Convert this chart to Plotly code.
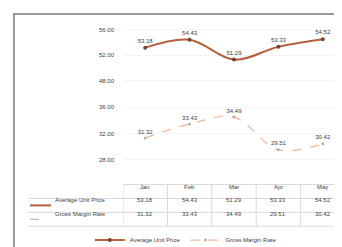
import plotly.graph_objects as go

categories = ["Jan", "Feb", "Mar", "Apr", "May"]
series1_name = "Average Unit Price"
series2_name = "Gross Margin Rate"
series1 = [53.18, 54.43, 51.29, 53.33, 54.52]
series2 = [31.32, 33.43, 34.49, 29.51, 30.42]
top_ticks = [56, 52, 48]
bottom_ticks = [36, 32, 28]

W, H = 342, 247
def py(p):
    return 1 - p / H

c1 = "#b8603e"
c2 = "#f2b58e"
txt = "#404040"
font = "Liberation Sans, Arial, sans-serif"

fig = go.Figure()
fig.add_trace(go.Scatter(
    x=list(range(len(categories))), y=series1, name=series1_name,
    mode="lines+markers+text", line=dict(color=c1, width=2, shape="spline"),
    marker=dict(size=4, color="#6e4636"),
    text=[f"{v:.2f}" for v in series1], textposition="top center",
    textfont=dict(size=6, color=txt), xaxis="x", yaxis="y",
    cliponaxis=False))
fig.add_trace(go.Scatter(
    x=list(range(len(categories))), y=series2, name=series2_name,
    mode="lines+markers+text", line=dict(color=c2, width=1.2, dash="dash", shape="spline"),
    marker=dict(size=3, color="#b0b0b0"),
    text=[f"{v:.2f}" for v in series2], textposition="top center",
    textfont=dict(size=6, color=txt), xaxis="x", yaxis="y2",
    cliponaxis=False))

def vrange(ticks, p_top, p_bot, y_top, y_bot):
    step = (ticks[0] - ticks[-1]) / (y_bot - y_top)
    return [ticks[-1] - (p_bot - y_bot) * step, ticks[0] + (y_top - p_top) * step]

fig.update_layout(
    width=W, height=H, margin=dict(l=0, r=0, t=0, b=0),
    paper_bgcolor="white", plot_bgcolor="white",
    font=dict(family=font, size=6, color=txt),
    xaxis=dict(domain=[115 / W, 337 / W], range=[-0.5, 4.5], showticklabels=False,
               showgrid=False, zeroline=False, anchor="y2"),
    yaxis=dict(domain=[py(80), py(15)], range=vrange(top_ticks, 15, 80, 22, 73),
               tickvals=top_ticks, ticktext=[f"{v:.2f}" for v in top_ticks],
               showgrid=True, gridcolor="#f4f4f4", zeroline=False,
               tickfont=dict(size=6, color=txt), ticklen=0, ticklabelstandoff=8),
    yaxis2=dict(domain=[py(160), py(92)], range=vrange(bottom_ticks, 92, 160, 100, 153),
                tickvals=bottom_ticks, ticktext=[f"{v:.2f}" for v in bottom_ticks],
                showgrid=True, gridcolor="#f4f4f4", zeroline=False,
                tickfont=dict(size=6, color=txt), ticklen=0, ticklabelstandoff=8),
    legend=dict(orientation="h", x=0.52, xanchor="center", y=py(234), yanchor="middle",
                font=dict(size=6, color=txt), bgcolor="rgba(0,0,0,0)",
                itemwidth=30, tracegroupgap=0),
    showlegend=True,
)

shapes = []
# outer border
shapes.append(dict(type="rect", xref="paper", yref="paper", x0=6 / W, x1=1.2, y0=-0.2, y1=py(6),
                   line=dict(color="#9a9a9a", width=2)))
# table lines
row_y = [185, 199, 213]
line_y = [178, 192, 206, 220]
for ly in line_y:
    shapes.append(dict(type="line", xref="paper", yref="paper",
                       x0=(20 if ly > 178 else 115) / W, x1=337 / W, y0=py(ly), y1=py(ly),
                       line=dict(color="#d9d9d9", width=1)))
for k in range(len(categories) + 1):
    shapes.append(dict(type="line", xref="x", yref="paper", x0=k - 0.5, x1=k - 0.5,
                       y0=py(220), y1=py(178), line=dict(color="#d9d9d9", width=1)))
# row keys
shapes.append(dict(type="line", xref="paper", yref="paper", x0=22 / W, x1=43 / W,
                   y0=py(199), y1=py(199), line=dict(color=c1, width=2)))
shapes.append(dict(type="line", xref="paper", yref="paper", x0=22 / W, x1=36 / W,
                   y0=py(213), y1=py(213), line=dict(color="#aaaaaa", width=1, dash="dash")))
fig.update_layout(shapes=shapes)

ann = []
for i, c in enumerate(categories):
    ann.append(dict(x=i, y=py(row_y[0]), xref="x", yref="paper", text=c, showarrow=False,
                    font=dict(size=6, color=txt)))
    ann.append(dict(x=i, y=py(row_y[1]), xref="x", yref="paper", text=f"{series1[i]:.2f}",
                    showarrow=False, font=dict(size=6, color=txt)))
    ann.append(dict(x=i, y=py(row_y[2]), xref="x", yref="paper", text=f"{series2[i]:.2f}",
                    showarrow=False, font=dict(size=6, color=txt)))
ann.append(dict(x=45 / W, y=py(row_y[1]), xref="paper", yref="paper", text=series1_name,
                showarrow=False, xanchor="left", font=dict(size=6, color=txt)))
ann.append(dict(x=45 / W, y=py(row_y[2]), xref="paper", yref="paper", text=series2_name,
                showarrow=False, xanchor="left", font=dict(size=6, color=txt)))
fig.update_layout(annotations=ann)

fig.write_html("out.html")
